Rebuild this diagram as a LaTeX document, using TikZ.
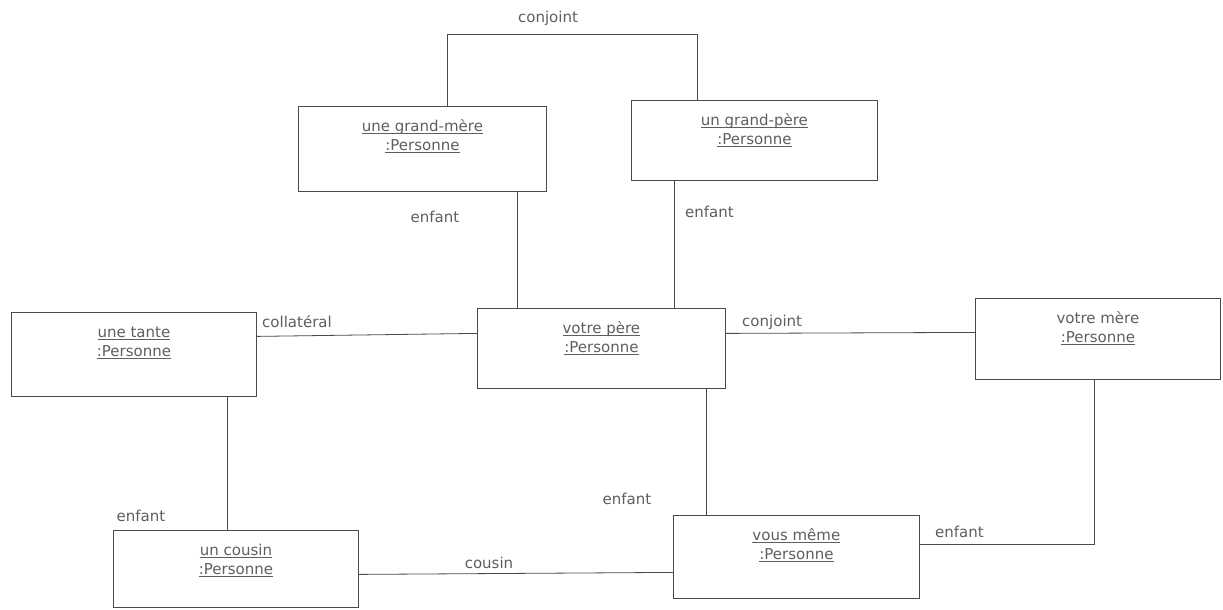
\documentclass[tikz,border=0pt]{standalone}
\usepackage{fontspec}
\setmainfont{DejaVu Sans}
\usepackage{xcolor}
\usepackage{tikz}
\usetikzlibrary{positioning}
\definecolor{umlline}{HTML}{4A4A4A}
\definecolor{umltext}{HTML}{5E5E5E}
\newcommand{\ul}[1]{\underline{\smash{#1}}}
\newcommand{\instbox}[4]{\parbox[c][#2pt][t]{#1pt}{\centering\rule{0pt}{25pt}#3\\#4}}

\begin{document}
\begin{tikzpicture}[
    x=1pt, y=-1pt,
    font=\fontsize{15}{19}\selectfont,
    instance/.style={draw=umlline, line width=0.8pt, inner sep=0pt, anchor=north west, text=umltext},
    role/.style={inner sep=0pt, anchor=base, text=umltext},
    link/.style={draw=umlline, line width=0.8pt}
]
\useasboundingbox (0,0) rectangle (1223,610);
\node[instance] (gm) at (298,106) {\instbox{248}{85}{\ul{une grand-mère}}{\ul{:Personne}}};
\node[instance] (gp) at (631,100) {\instbox{246}{80}{\ul{un grand-père}}{\ul{:Personne}}};
\node[instance] (tante) at (11,312) {\instbox{245}{84}{\ul{une tante}}{\ul{:Personne}}};
\node[instance] (pere) at (477,308) {\instbox{248}{80}{\ul{votre père}}{\ul{:Personne}}};
\node[instance] (mere) at (975,298) {\instbox{245}{81}{votre mère}{\ul{:Personne}}};
\node[instance] (cousin) at (113,530) {\instbox{245}{77}{\ul{un cousin}}{\ul{:Personne}}};
\node[instance] (vous) at (673,515) {\instbox{246}{83}{\ul{vous même}}{\ul{:Personne}}};
% roles
\node[role] (rconj1) at (548,23) {conjoint};
\node[role] (renf1) at (435,222) {enfant};
\node[role, anchor=base west] (renf2) at (685,217) {enfant};
\node[role, anchor=base west] (rcoll) at (262,327) {collatéral};
\node[role, anchor=base west] (rconj2) at (742,326) {conjoint};
\node[role] (renf3) at (141,521) {enfant};
\node[role] (rcous) at (489,568) {cousin};
\node[role] (renf4) at (627,504) {enfant};
\node[role, anchor=base west] (renf5) at (935,537) {enfant};
% links
\draw[link] ([xshift=25pt]gm.north) -- ++(0,-72) -| ([xshift=-57pt]gp.north);
\draw[link] ([xshift=95pt]gm.south) -- ([xshift=-84pt]pere.north);
\draw[link] ([xshift=-80pt]gp.south) -- ([xshift=73pt]pere.north);
\draw[link] ([yshift=18pt]tante.east) -- ([yshift=15pt]pere.west);
\draw[link] ([yshift=15pt]pere.east) -- ([yshift=6.5pt]mere.west);
\draw[link] ([xshift=105pt]pere.south) -- ([xshift=-90pt]vous.north);
\draw[link] ([xshift=93.5pt]tante.south) -- ([xshift=-8.5pt]cousin.north);
\draw[link] ([yshift=-5.5pt]cousin.east) -- ([yshift=-15.5pt]vous.west);
\draw[link] ([xshift=-3.5pt]mere.south) |- ([yshift=12.5pt]vous.east);
\end{tikzpicture}
\end{document}
